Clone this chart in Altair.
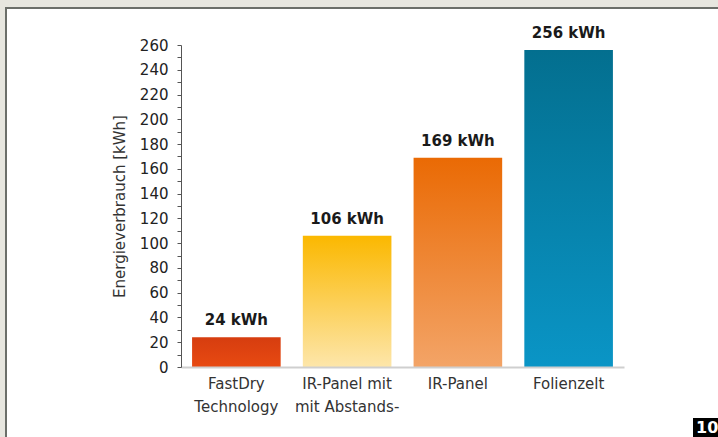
import altair as alt
import pandas as pd

categories = ["FastDry\nTechnology", "IR-Panel mit\nmit Abstands-", "IR-Panel", "Folienzelt"]
values = [24, 106, 169, 256]
labels = ["24 kWh", "106 kWh", "169 kWh", "256 kWh"]
grad_top = ["#d63d0f", "#fbb800", "#ea6a04", "#036f8f"]
grad_bottom = ["#e84a12", "#fde6aa", "#f3a467", "#0a95c6"]

df = pd.DataFrame({"cat": categories, "val": values, "lab": labels})

FONT = "DejaVu Sans"
W, H = 443, 322
PL, PT = 181, 45

x_enc = alt.X("cat:N", sort=categories, title=None,
              scale=alt.Scale(paddingInner=0.2, paddingOuter=0.1),
              axis=alt.Axis(labelAngle=0, ticks=False, domainColor="#cfcfcf", domainWidth=2,
                            labelExpr="split(datum.label, '\\n')", labelFontSize=15,
                            labelLineHeight=23, labelPadding=9, labelColor="#333333",
                            labelFont=FONT, labelOverlap=False, zindex=1))
y_enc = alt.Y("val:Q", title="Energieverbrauch [kWh]",
              scale=alt.Scale(domain=[0, 260], nice=False),
              axis=alt.Axis(values=list(range(0, 261, 10)),
                            labelExpr="datum.value % 20 == 0 ? datum.label : ''",
                            labelOverlap=False, labelFlush=False,
                            grid=False, domainColor="#555555", tickColor="#555555",
                            tickSize=4, labelPadding=9, labelFontSize=15, labelColor="#222222",
                            labelFont=FONT, titleFont=FONT, titleFontSize=15,
                            titleFontWeight="normal", titleColor="#333333", titlePadding=12,
                            zindex=1))

one = pd.DataFrame({"k": [0]})

frame = alt.Chart(one).mark_rect(fill="white", stroke="#6b6e69", strokeWidth=2).encode(
    x=alt.value(6 - PL), x2=alt.value(718 - PL + 10),
    y=alt.value(8 - PT), y2=alt.value(437 - PT + 10))

layers = [frame]
for i, c in enumerate(categories):
    grad = alt.LinearGradient(gradient="linear",
                              stops=[alt.GradientStop(offset=0, color=grad_top[i]),
                                     alt.GradientStop(offset=1, color=grad_bottom[i])],
                              x1=0, x2=0, y1=0, y2=1)
    layers.append(
        alt.Chart(df).transform_filter(alt.datum.cat == c)
        .mark_bar(color=grad).encode(x=x_enc, y=y_enc)
    )

text = alt.Chart(df).mark_text(fontWeight="bold", fontSize=15, font=FONT, color="#1a1a1a",
                               baseline="middle", dy=-17).encode(
    x=x_enc, y=y_enc, text="lab:N")
layers.append(text)

badge = alt.Chart(one).mark_rect(fill="black").encode(
    x=alt.value(693 - PL), x2=alt.value(720 - PL),
    y=alt.value(418 - PT), y2=alt.value(440 - PT))
badge_text = alt.Chart(one).mark_text(text="10", color="white", fontWeight="bold", fontSize=16,
                                      font=FONT, align="left", baseline="middle").encode(
    x=alt.value(696 - PL), y=alt.value(428 - PT))
layers += [badge, badge_text]

chart = alt.layer(*layers).properties(
    width=W, height=H,
    autosize=alt.AutoSizeParams(type="none"),
    padding={"left": PL, "top": PT, "right": 718 - PL - W, "bottom": 437 - PT - H},
    background="#e7e6df",
).configure_view(stroke=None)

chart.save("out.html", embed_options={"renderer": "svg", "actions": False})
